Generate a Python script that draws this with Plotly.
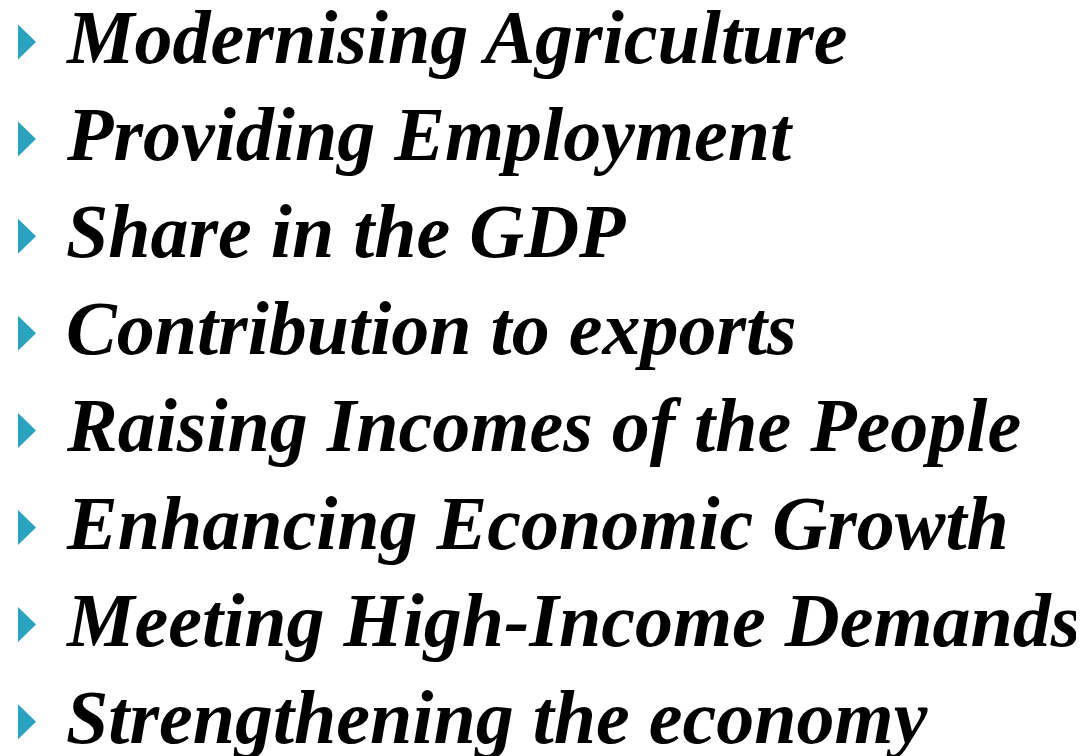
import plotly.graph_objects as go

items = [
    "Modernising Agriculture",
    "Providing Employment",
    "Share in the GDP",
    "Contribution to exports",
    "Raising Incomes of the People",
    "Enhancing Economic Growth",
    "Meeting High-Income Demands",
    "Strengthening the economy",
]
positions = list(range(len(items)))

BULLET = "#2aa3c0"
W, H = 1084, 756
PAGE_OFFSET = 8          # default body margin of the html page
line_px = 97.1
first_px = 42 - PAGE_OFFSET
bullet_left = 18 - PAGE_OFFSET
bullet_right = 36 - PAGE_OFFSET
bullet_half = 17.5 / line_px
text_x = 64 - PAGE_OFFSET

# bullet triangles built from the item positions
bx, by = [], []
for p in positions:
    bx += [bullet_left, bullet_right, bullet_left, bullet_left, None]
    by += [p - bullet_half, p, p + bullet_half, p - bullet_half, None]

fig = go.Figure()
fig.add_trace(go.Scatter(
    x=bx, y=by, mode="lines", fill="toself", fillcolor=BULLET,
    line=dict(width=0, color=BULLET),
    hoverinfo="skip", showlegend=False,
))
for p, t in zip(positions, items):
    fig.add_annotation(
        x=text_x, y=p, text=f"<b><i>{t}</i></b>", showarrow=False,
        xanchor="left", yanchor="middle", yshift=5,
        font=dict(family="Liberation Serif", size=76, color="#000000"),
    )

fig.update_layout(
    width=W, height=H,
    margin=dict(l=0, r=0, t=0, b=0),
    paper_bgcolor="white", plot_bgcolor="white",
    xaxis=dict(range=[0, W], visible=False, fixedrange=True),
    yaxis=dict(range=[(H - first_px) / line_px, -first_px / line_px], visible=False, fixedrange=True),
)
fig.write_html("out.html")
